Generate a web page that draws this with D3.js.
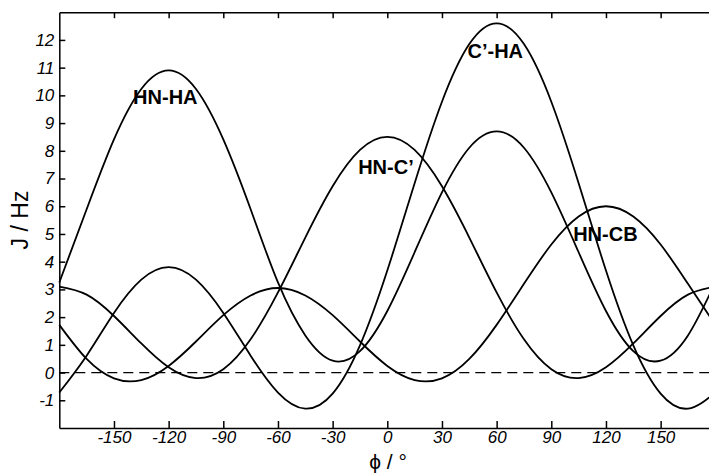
<!DOCTYPE html>
<html>
<head>
<meta charset="utf-8">
<script src="https://cdn.jsdelivr.net/npm/d3@7"></script>
<style>
    body { margin: 0; background: #fff; }
    .axis text { font-family: "Liberation Sans", Arial, sans-serif; font-style: italic; font-size: 17px; fill: #000; }
    .axis path, .axis line { stroke: #000; stroke-width: 1.5; }
    .curve { fill: none; stroke: #000; stroke-width: 1.8; }
    .label { font-family: "Liberation Sans", Arial, sans-serif; font-weight: bold; font-size: 20px; }
</style>
</head>
<body>
<div class="karplus-container"></div>
<script>
// dihedral angle phi, sampled every 15 degrees
const phi = [-180, -165, -150, -135, -120, -105, -90, -75, -60, -45, -30, -15, 0,
             15, 30, 45, 60, 75, 90, 105, 120, 135, 150, 165, 180];

// coupling constants (Hz)
const hnHa = [3.25, 5.89, 8.41, 10.23, 10.90, 10.23, 8.41, 5.89, 3.25, 1.34, 0.43, 0.77, 2.22,
              4.34, 6.50, 8.11, 8.70, 8.11, 6.50, 4.34, 2.22, 0.77, 0.43, 1.34, 3.25];
const hnC = [3.10, 2.81, 2.04, 1.05, 0.19, -0.20, 0.12, 1.20, 2.89, 4.87, 6.72, 8.03, 8.50,
             8.03, 6.72, 4.87, 2.89, 1.20, 0.12, -0.20, 0.19, 1.05, 2.04, 2.81, 3.10];
const cHa = [-0.72, 0.61, 2.15, 3.35, 3.80, 3.35, 2.15, 0.61, -0.72, -1.30, -0.76, 0.98, 3.68,
             6.83, 9.77, 11.85, 12.60, 11.85, 9.77, 6.83, 3.68, 0.98, -0.76, -1.30, -0.72];
const hnCb = [1.72, 0.49, -0.21, -0.27, 0.24, 1.12, 2.07, 2.78, 3.05, 2.78, 2.07, 1.12, 0.24,
              -0.27, -0.21, 0.49, 1.72, 3.20, 4.62, 5.63, 6.00, 5.63, 4.62, 3.20, 1.72];

const xTicks = [-150, -120, -90, -60, -30, 0, 30, 60, 90, 120, 150];
const yTicks = [-1, 0, 1, 2, 3, 4, 5, 6, 7, 8, 9, 10, 11, 12];

// curve labels: text, phi and J where the label starts
const labels = [
    { text: "HN-HA", phi: -139.5, j: 9.70 },
    { text: "HN-C\u2019", phi: -16, j: 7.15 },
    { text: "C\u2019-HA", phi: 44, j: 11.35 },
    { text: "HN-CB", phi: 102, j: 4.75 }
];

const width = 709;
const height = 475;

let svg = d3.select(".karplus-container").append("svg")
    .attr("width", width)
    .attr("height", height);

let xScale = d3.scaleLinear()
    .domain([-180, 180])
    .range([59.3, 715.3]);

let yScale = d3.scaleLinear()
    .domain([-2, 13])
    .range([428, 12.2]);

// plain hyphen for negatives, like the original
const fmt = d => String(d);

// frame: bottom and left carry labels, top and right only ticks (all inward)
svg.append("g")
    .attr("class", "axis")
    .attr("transform", "translate(0," + yScale(-2) + ")")
    .call(d3.axisBottom(xScale).tickValues(xTicks).tickSize(-7).tickSizeOuter(0).tickPadding(3).tickFormat(fmt));
svg.append("g")
    .attr("class", "axis")
    .attr("transform", "translate(0," + yScale(13) + ")")
    .call(d3.axisTop(xScale).tickValues(xTicks).tickSize(-6).tickSizeOuter(0).tickFormat(""));
svg.append("g")
    .attr("class", "axis")
    .attr("transform", "translate(" + xScale(-180) + ",0)")
    .call(d3.axisLeft(yScale).tickValues(yTicks).tickSize(-6).tickSizeOuter(0).tickPadding(5).tickFormat(fmt));
svg.append("g")
    .attr("class", "axis")
    .attr("transform", "translate(" + xScale(180) + ",0)")
    .call(d3.axisRight(yScale).tickValues(yTicks).tickSize(-6).tickSizeOuter(0).tickFormat(""));

// dashed zero line
svg.append("line")
    .attr("x1", xScale(-180))
    .attr("x2", xScale(180))
    .attr("y1", yScale(0))
    .attr("y2", yScale(0))
    .attr("stroke", "#000")
    .attr("stroke-width", 1.2)
    .attr("stroke-dasharray", "10,6");

let line = d3.line()
    .x((d, i) => xScale(phi[i]))
    .y(d => yScale(d))
    .curve(d3.curveNatural);

[hnHa, hnC, cHa, hnCb].forEach(series => {
    svg.append("path")
        .attr("class", "curve")
        .attr("d", line(series));
});

svg.selectAll(".label")
    .data(labels)
    .enter()
    .append("text")
    .attr("class", "label")
    .attr("x", d => xScale(d.phi))
    .attr("y", d => yScale(d.j))
    .text(d => d.text);

// axis titles
svg.append("text")
    .attr("transform", "translate(28,220) rotate(-90)")
    .attr("text-anchor", "middle")
    .style("font-family", "'Liberation Sans', Arial, sans-serif")
    .style("font-size", "23px")
    .text("J / Hz");

svg.append("text")
    .attr("x", 388)
    .attr("y", 469)
    .attr("text-anchor", "middle")
    .style("font-family", "'Liberation Sans', Arial, sans-serif")
    .style("font-size", "21px")
    .text("\u03d5 / \u00b0");
</script>
</body>
</html>
